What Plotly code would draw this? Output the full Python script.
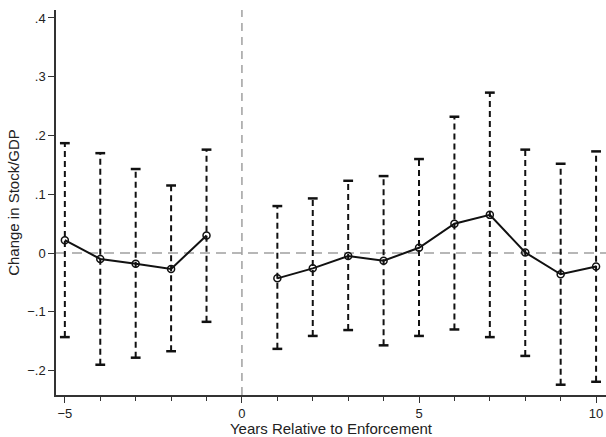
import plotly.graph_objects as go

years_pre = [-5, -4, -3, -2, -1]
coef_pre = [0.022, -0.010, -0.018, -0.027, 0.030]
upper_pre = [0.187, 0.170, 0.143, 0.115, 0.176]
lower_pre = [-0.143, -0.190, -0.178, -0.167, -0.117]

years_post = [1, 2, 3, 4, 5, 6, 7, 8, 9, 10]
coef_post = [-0.043, -0.026, -0.005, -0.013, 0.009, 0.050, 0.065, 0.001, -0.036, -0.023]
upper_post = [0.080, 0.093, 0.123, 0.131, 0.160, 0.232, 0.273, 0.176, 0.152, 0.173]
lower_post = [-0.163, -0.141, -0.131, -0.157, -0.141, -0.130, -0.143, -0.175, -0.224, -0.219]

ytick_vals = [-0.2, -0.1, 0, 0.1, 0.2, 0.3, 0.4]
ytick_text = ["\u2212.2", "\u2212.1", "0", ".1", ".2", ".3", ".4"]
xtick_vals = [-5, 0, 5, 10]
xtick_text = ["\u22125", "0", "5", "10"]

years = years_pre + years_post
upper = upper_pre + upper_post
lower = lower_pre + lower_post

fig = go.Figure()

# dashed CI segments
seg_x, seg_y = [], []
for x, lo, hi in zip(years, lower, upper):
    seg_x += [x, x, None]
    seg_y += [lo, hi, None]
fig.add_trace(go.Scatter(x=seg_x, y=seg_y, mode="lines",
                         line=dict(color="#111111", width=2, dash="6px,4px"),
                         hoverinfo="skip", showlegend=False))
# caps
fig.add_trace(go.Scatter(x=years + years, y=upper + lower, mode="markers",
                         marker=dict(symbol="line-ew", size=7,
                                     line=dict(color="#111111", width=2.5)),
                         hoverinfo="skip", showlegend=False))

for xs, ys in [(years_pre, coef_pre), (years_post, coef_post)]:
    fig.add_trace(go.Scatter(x=xs, y=ys, mode="lines+markers",
                             line=dict(color="#111111", width=2),
                             marker=dict(symbol="circle-open", size=7,
                                         color="#111111", line=dict(width=1.5)),
                             showlegend=False))

fig.add_shape(type="line", xref="paper", yref="y", x0=0, x1=1, y0=0, y1=0,
              line=dict(color="#a0a0a0", width=1.5, dash="10px,6px"), layer="below")
fig.add_shape(type="line", xref="x", yref="paper", x0=0, x1=0, y0=0, y1=1,
              line=dict(color="#a0a0a0", width=1.5, dash="8px,6px"), layer="below")

fig.update_layout(
    width=606, height=437,
    margin=dict(l=56, r=0, t=10, b=42),
    paper_bgcolor="white", plot_bgcolor="white",
    font=dict(family="Liberation Sans, Arial, sans-serif", color="#222222", size=13),
    xaxis=dict(range=[-5.25, 10.28], tickvals=xtick_vals, ticktext=xtick_text,
               showgrid=False, zeroline=False, showline=True, linecolor="#333333",
               linewidth=1.5, ticks="outside", ticklen=6, tickcolor="#333333",
               minor=dict(dtick=1, ticks="outside", ticklen=4, tickcolor="#333333"),
               title=dict(text="Years Relative to Enforcement", font=dict(size=15),
                          standoff=1),
               tickfont=dict(size=13)),
    yaxis=dict(range=[-0.2415, 0.4136], tickvals=ytick_vals, ticktext=ytick_text,
               showgrid=False, zeroline=False, showline=True, linecolor="#333333",
               linewidth=1.5, ticks="outside", ticklen=6, tickcolor="#333333",
               title=dict(text="Change in Stock/GDP", font=dict(size=15), standoff=4),
               tickfont=dict(size=13)),
)

fig.write_html("out.html")
